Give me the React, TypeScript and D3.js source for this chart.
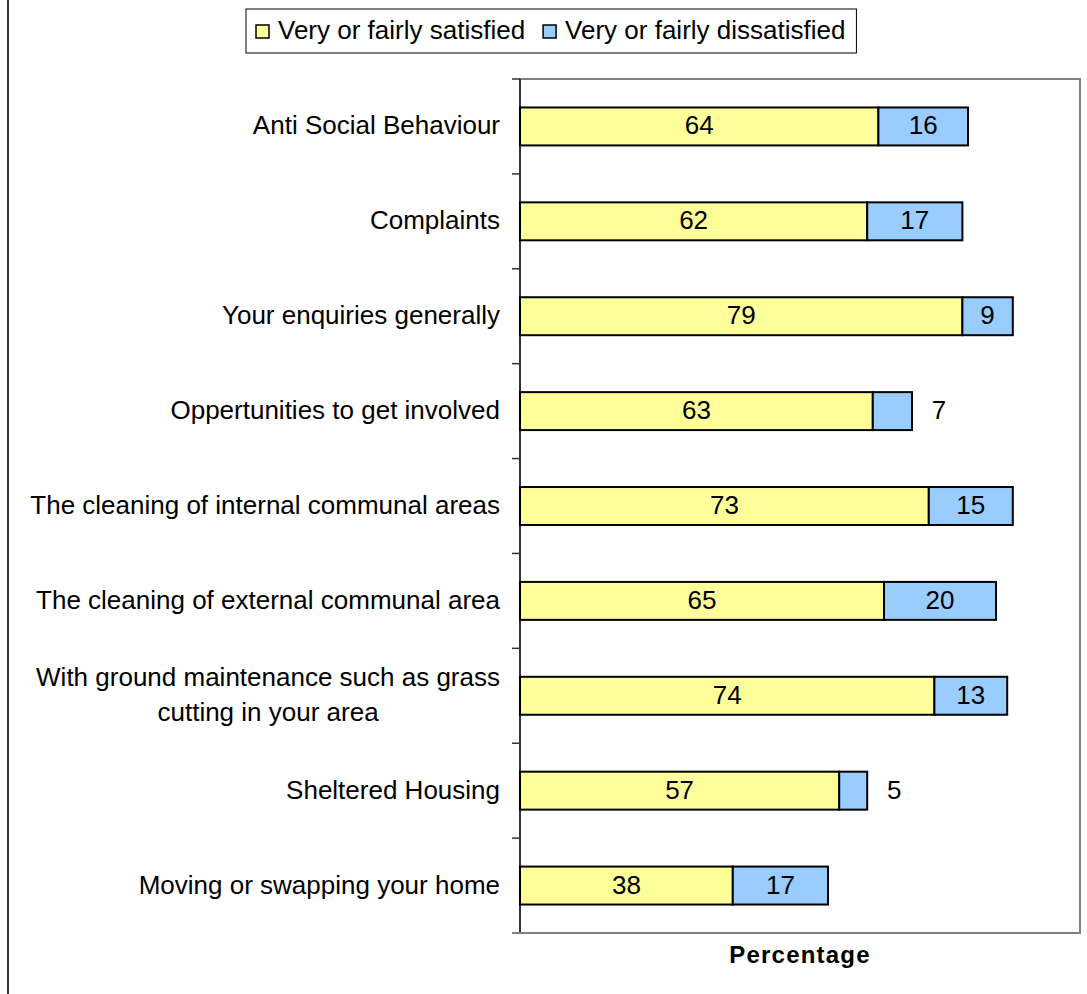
import React, { useEffect, useRef } from "react";
import * as d3 from "d3";

const categories: string[][] = [
  ["Anti Social Behaviour"],
  ["Complaints"],
  ["Your enquiries generally"],
  ["Oppertunities to get involved"],
  ["The cleaning of internal communal areas"],
  ["The cleaning of external communal area"],
  ["With ground maintenance such as grass", "cutting in your area"],
  ["Sheltered Housing"],
  ["Moving or swapping your home"],
];
const satisfied: number[] = [64, 62, 79, 63, 73, 65, 74, 57, 38];
const dissatisfied: number[] = [16, 17, 9, 7, 15, 20, 13, 5, 17];
const seriesNames: string[] = ["Very or fairly satisfied", "Very or fairly dissatisfied"];
const seriesColors: string[] = ["#FFFF99", "#99CCFF"];
const axisTitle = "Percentage";

const W = 1087;
const H = 994;
const FONT = "'Liberation Sans', Arial, sans-serif";
const FS = 26;

export default function App() {
  const ref = useRef<SVGSVGElement | null>(null);

  useEffect(() => {
    document.body.style.margin = "0";
    const svg = d3.select(ref.current);
    svg.selectAll("*").remove();

    const plot = { left: 520, right: 1080, top: 79, bottom: 933 };
    const x = d3.scaleLinear().domain([0, 100]).range([plot.left, plot.right]);
    const y = d3
      .scaleBand<number>()
      .domain(d3.range(categories.length))
      .range([plot.top, plot.bottom])
      .paddingInner(0.6)
      .paddingOuter(0.3);

    // chart left border
    svg.append("line").attr("x1", 8).attr("x2", 8).attr("y1", 0).attr("y2", H)
      .attr("stroke", "#333").attr("stroke-width", 2);

    // plot area border (gray)
    svg.append("rect")
      .attr("x", plot.left).attr("y", plot.top)
      .attr("width", plot.right - plot.left).attr("height", plot.bottom - plot.top)
      .attr("fill", "none").attr("stroke", "#808080").attr("stroke-width", 2);

    // y axis line and ticks
    const band = (plot.bottom - plot.top) / categories.length;
    const g = svg.append("g");
    g.append("line").attr("x1", plot.left).attr("x2", plot.left)
      .attr("y1", plot.top).attr("y2", plot.bottom).attr("stroke", "#333").attr("stroke-width", 2);
    d3.range(categories.length + 1).forEach((i) => {
      const ty = plot.top + i * band;
      g.append("line").attr("x1", plot.left - 8).attr("x2", plot.left)
        .attr("y1", ty).attr("y2", ty).attr("stroke", "#333").attr("stroke-width", 1.5);
    });
    g.append("line").attr("x1", plot.left - 8).attr("x2", plot.right)
      .attr("y1", plot.bottom).attr("y2", plot.bottom).attr("stroke", "#808080").attr("stroke-width", 2);

    // bars
    const bars = svg.append("g");
    categories.forEach((_, i) => {
      const by = y(i)!;
      const bh = y.bandwidth();
      const s = satisfied[i];
      const d = dissatisfied[i];
      bars.append("rect").attr("x", x(0)).attr("y", by)
        .attr("width", x(s) - x(0)).attr("height", bh)
        .attr("fill", seriesColors[0]).attr("stroke", "#000").attr("stroke-width", 2);
      bars.append("rect").attr("x", x(s)).attr("y", by)
        .attr("width", x(s + d) - x(s)).attr("height", bh)
        .attr("fill", seriesColors[1]).attr("stroke", "#000").attr("stroke-width", 2);
      const cy = by + bh / 2;
      bars.append("text").attr("x", (x(0) + x(s)) / 2).attr("y", cy + 8)
        .attr("text-anchor", "middle").attr("font-size", FS).attr("font-family", FONT)
        .attr("fill", "#000").text(String(s));
      const inside = d >= 8;
      bars.append("text")
        .attr("x", inside ? (x(s) + x(s + d)) / 2 : x(s + d) + 27)
        .attr("y", cy + 8)
        .attr("text-anchor", "middle").attr("font-size", FS).attr("font-family", FONT)
        .attr("fill", "#000").text(String(d));
    });

    // category labels
    const labels = svg.append("g");
    categories.forEach((lines, i) => {
      const cy = y(i)! + y.bandwidth() / 2;
      if (lines.length === 1) {
        labels.append("text").attr("x", 500).attr("y", cy + 8)
          .attr("text-anchor", "end").attr("font-size", FS).attr("font-family", FONT)
          .attr("fill", "#000").text(lines[0]);
      } else {
        const lh = 35;
        const t0 = labels.append("text").attr("x", 500).attr("y", cy - lh / 2 + 8)
          .attr("text-anchor", "end").attr("font-size", FS).attr("font-family", FONT)
          .attr("fill", "#000").text(lines[0]);
        const w0 = (t0.node() as SVGTextElement).getComputedTextLength();
        labels.append("text").attr("x", 500 - w0 / 2).attr("y", cy + lh / 2 + 8)
          .attr("text-anchor", "middle").attr("font-size", FS).attr("font-family", FONT)
          .attr("fill", "#000").text(lines[1]);
      }
    });

    // axis title
    svg.append("text").attr("x", 800).attr("y", 963)
      .attr("text-anchor", "middle").attr("font-size", 24).attr("font-weight", "bold")
      .attr("letter-spacing", 1.2).attr("font-family", FONT).attr("fill", "#000").text(axisTitle);

    // legend
    const leg = svg.append("g");
    const legBox = leg.append("rect").attr("x", 246).attr("y", 9).attr("height", 44)
      .attr("fill", "#fff").attr("stroke", "#000").attr("stroke-width", 1);
    let cx = 256;
    let lastEnd = cx;
    seriesNames.forEach((name, i) => {
      leg.append("rect").attr("x", cx).attr("y", 25).attr("width", 13).attr("height", 13)
        .attr("fill", seriesColors[i]).attr("stroke", "#000").attr("stroke-width", 1.5);
      const t = leg.append("text").attr("x", cx + 22).attr("y", 39)
        .attr("font-size", FS).attr("font-family", FONT).attr("fill", "#000").text(name);
      const tw = (t.node() as SVGTextElement).getComputedTextLength();
      lastEnd = cx + 22 + tw;
      cx = lastEnd + 18;
    });
    legBox.attr("width", lastEnd + 11 - 246);
  }, []);

  return <svg ref={ref} width={W} height={H} style={{ display: "block" }} />;
}
